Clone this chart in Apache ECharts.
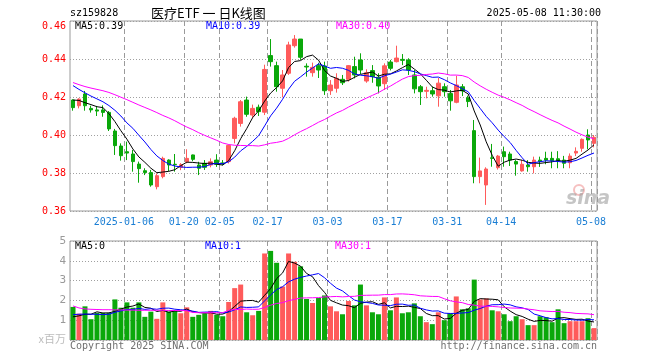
<!DOCTYPE html>
<html><head><meta charset="utf-8">
<script src="https://cdn.jsdelivr.net/npm/echarts@6/dist/echarts.min.js"></script>
<style>html,body{margin:0;padding:0;background:#fff}#c{width:660px;height:360px}</style>
</head><body><div id="c"></div>
<script>
const dates = [
'2024-12-23','2024-12-24','2024-12-25','2024-12-26','2024-12-27','2024-12-30','2024-12-31',
'2025-01-02','2025-01-03','2025-01-06','2025-01-07','2025-01-08','2025-01-09','2025-01-10','2025-01-13','2025-01-14','2025-01-15','2025-01-16','2025-01-17','2025-01-20','2025-01-21','2025-01-22','2025-01-23','2025-01-24','2025-01-27',
'2025-02-05','2025-02-06','2025-02-07','2025-02-10','2025-02-11','2025-02-12','2025-02-13','2025-02-14','2025-02-17','2025-02-18','2025-02-19','2025-02-20','2025-02-21','2025-02-24','2025-02-25','2025-02-26','2025-02-27','2025-02-28',
'2025-03-03','2025-03-04','2025-03-05','2025-03-06','2025-03-07','2025-03-10','2025-03-11','2025-03-12','2025-03-13','2025-03-14','2025-03-17','2025-03-18','2025-03-19','2025-03-20','2025-03-21','2025-03-24','2025-03-25','2025-03-26','2025-03-27','2025-03-28','2025-03-31',
'2025-04-01','2025-04-02','2025-04-03','2025-04-07','2025-04-08','2025-04-09','2025-04-10','2025-04-11','2025-04-14','2025-04-15','2025-04-16','2025-04-17','2025-04-18','2025-04-21','2025-04-22','2025-04-23','2025-04-24','2025-04-25','2025-04-28','2025-04-29','2025-04-30',
'2025-05-06','2025-05-07','2025-05-08'];

const openP = [0.4184,0.4154,0.4216,0.4140,0.4132,0.4132,0.4119,0.4021,0.3942,0.3912,
0.3900,0.3847,0.3812,0.3802,0.3728,0.3781,0.3868,0.3846,0.3830,0.3859,
0.3895,0.3842,0.3851,0.3842,0.3868,0.3853,0.3860,0.3982,0.4061,0.4184,
0.4105,0.4146,0.4120,0.4418,0.4365,0.4246,0.4325,0.4470,0.4505,0.4362,
0.4328,0.4365,0.4363,0.4233,0.4246,0.4293,0.4293,0.4360,0.4395,0.4284,
0.4339,0.4304,0.4270,0.4384,0.4386,0.4398,0.4395,0.4316,0.4254,0.4230,
0.4233,0.4206,0.4254,0.4218,0.4172,0.4254,0.4196,0.4023,0.3781,0.3737,
0.3880,0.3828,0.3912,0.3900,0.3860,0.3811,0.3842,0.3833,0.3868,0.3877,
0.3877,0.3875,0.3868,0.3854,0.3905,0.3930,0.4000,0.3956];
const closeP = [0.4144,0.4189,0.4154,0.4132,0.4126,0.4119,0.4032,0.3944,0.3891,0.3905,
0.3860,0.3823,0.3802,0.3737,0.3786,0.3877,0.3842,0.3844,0.3844,0.3877,
0.3872,0.3825,0.3830,0.3859,0.3846,0.3849,0.3945,0.4088,0.4175,0.4109,
0.4140,0.4123,0.4345,0.4386,0.4254,0.4316,0.4474,0.4505,0.4409,0.4358,
0.4356,0.4342,0.4233,0.4263,0.4298,0.4275,0.4365,0.4316,0.4342,0.4328,
0.4307,0.4258,0.4364,0.4351,0.4405,0.4393,0.4342,0.4243,0.4228,0.4235,
0.4216,0.4273,0.4228,0.4180,0.4263,0.4232,0.4176,0.3781,0.3811,0.3821,
0.3877,0.3889,0.3886,0.3868,0.3847,0.3846,0.3833,0.3868,0.3860,0.3868,
0.3865,0.3865,0.3851,0.3889,0.3914,0.3977,0.3974,0.3988];
const lowP = [0.4128,0.4140,0.4128,0.4118,0.4100,0.4096,0.4021,0.3895,0.3865,0.3868,
0.3807,0.3749,0.3789,0.3728,0.3714,0.3772,0.3810,0.3807,0.3815,0.3851,
0.3862,0.3789,0.3816,0.3830,0.3832,0.3840,0.3850,0.3956,0.4044,0.4096,
0.4090,0.4100,0.4105,0.4360,0.4228,0.4198,0.4316,0.4460,0.4395,0.4307,
0.4307,0.4300,0.4211,0.4211,0.4223,0.4263,0.4281,0.4298,0.4321,0.4275,
0.4275,0.4219,0.4237,0.4340,0.4382,0.4368,0.4316,0.4219,0.4158,0.4193,
0.4202,0.4149,0.4202,0.4128,0.4167,0.4205,0.4147,0.3746,0.3746,0.3632,
0.3833,0.3818,0.3833,0.3837,0.3786,0.3807,0.3807,0.3798,0.3832,0.3846,
0.3825,0.3825,0.3825,0.3825,0.3889,0.3912,0.3925,0.3935];
const highP = [0.4188,0.4193,0.4232,0.4154,0.4153,0.4156,0.4126,0.4032,0.3956,0.3965,
0.3921,0.3860,0.3825,0.3816,0.3798,0.3886,0.3872,0.3900,0.3852,0.3925,
0.3897,0.3859,0.3868,0.3877,0.3899,0.3868,0.3950,0.4096,0.4184,0.4202,
0.4160,0.4160,0.4370,0.4505,0.4386,0.4342,0.4491,0.4526,0.4505,0.4377,
0.4381,0.4380,0.4386,0.4289,0.4325,0.4316,0.4368,0.4412,0.4430,0.4346,
0.4368,0.4325,0.4377,0.4395,0.4470,0.4426,0.4404,0.4342,0.4263,0.4254,
0.4254,0.4300,0.4272,0.4237,0.4312,0.4268,0.4207,0.4079,0.3881,0.3830,
0.3953,0.3895,0.3939,0.3912,0.3868,0.3868,0.3868,0.3886,0.3886,0.3912,
0.3912,0.3915,0.3890,0.3903,0.3935,0.3982,0.4030,0.4000];
const volume = [1.67,1.33,1.70,1.05,1.37,1.37,1.37,2.05,1.63,1.90,
1.63,1.90,1.17,1.43,1.07,1.90,1.43,1.50,1.35,1.65,
1.17,1.27,1.33,1.47,1.27,1.20,1.92,2.62,2.80,1.40,
1.25,1.47,4.37,4.50,3.90,2.70,4.37,3.95,3.72,2.07,
1.87,2.12,2.25,1.70,1.45,1.30,1.97,1.75,2.80,1.75,
1.40,1.30,2.15,1.50,2.15,1.35,1.40,1.85,1.20,0.90,
0.80,1.40,1.00,1.35,2.20,1.55,1.60,3.05,2.05,2.10,
1.50,1.45,1.30,0.95,1.20,1.05,0.75,0.75,1.20,1.15,
0.90,1.55,0.85,0.95,0.95,0.95,1.10,0.60];

// moving-average values before enough visible history exists
const ma5Head = [0.4184,0.4182,0.4170,0.4160];
const ma10Head = [0.4260,0.4240,0.4222,0.4205,0.4190,0.4175,0.4155,0.4130,0.4100];
const ma30Head = [0.4276,0.4265,0.4255,0.4247,0.4240,0.4233,0.4224,0.4212,0.4199,0.4186,0.4172,0.4158,0.4145,0.4132,0.4118,0.4103,0.4090,0.4075,0.4058,0.4042,0.4028,0.4012,0.3998,0.3985,0.3972,0.3958,0.3950,0.3946,0.3945];
const vma5Head = [1.17,1.22,1.30,1.30];
const vma10Head = [1.28,1.30,1.31,1.30,1.30,1.28,1.30,1.40,1.47];
const vma30Head = [1.72,1.62,1.57,1.55,1.54,1.53,1.53,1.52,1.52,1.51,1.51,1.50,1.50,1.50,1.50,1.50,1.49,1.49,1.49,1.48,1.39,1.38,1.38,1.38,1.38,1.38,1.50,1.54,1.54];

const priceAxis = {min:0.36, max:0.46, step:0.02};
const volAxis = {min:0, max:5, step:1};
const labelDates = ['2025-01-06','2025-01-20','2025-02-05','2025-02-17','2025-03-03','2025-03-17','2025-03-31','2025-04-14','2025-05-08'];
const headerTexts = {code:'sz159828', title:'医疗ETF 一 日K线图', time:'2025-05-08 11:30:00'};
const maTexts = ['MA5:0.39','MA10:0.39','MA30:0.40'];
const vmaTexts = ['MA5:0','MA10:1','MA30:1'];

const RED = '#ff5b5b', GREEN = '#0aa80a';
const MONO = 'DejaVu Sans Mono';

function movingAvg(src, n, head) {
  return src.map((v, i) => {
    if (i < n - 1) return head[i];
    let s = 0;
    for (let k = i - n + 1; k <= i; k++) s += src[k];
    return +(s / n).toFixed(5);
  });
}

const labelIdx = labelDates.map(d => dates.indexOf(d));
const kData = dates.map((d, i) => [openP[i], closeP[i], lowP[i], highP[i]]);
const volData = volume.map((v, i) => ({value: v, itemStyle: {color: closeP[i] >= openP[i] ? RED : GREEN}}));

const chart = echarts.init(document.getElementById('c'), null, {renderer: 'canvas'});
const splitX = {show: true, interval: (i) => labelIdx.includes(i), lineStyle: {color: '#9a9a9a', type: [5, 3], width: 1}};
const lineS = (name, data, color, xi) => ({name, type: 'line', data, xAxisIndex: xi, yAxisIndex: xi, symbol: 'none', silent: true,
  lineStyle: {color, width: 1}, itemStyle: {color}, z: 5});

function txt(x, y, text, color, opts) {
  return Object.assign({type: 'text', x, y, silent: true, style: Object.assign({text, fill: color, font: '10px "' + MONO + '"', textVerticalAlign: 'middle'}, opts || {})});
}

chart.setOption({
  animation: false,
  backgroundColor: '#fff',
  grid: [
    {left: 70, top: 21, width: 527, height: 190, show: true, borderColor: '#9a9a9a', borderWidth: 1},
    {left: 70, top: 241, width: 527, height: 99, show: true, borderColor: '#9a9a9a', borderWidth: 1}
  ],
  xAxis: [
    {type: 'category', gridIndex: 0, data: dates, boundaryGap: true,
     axisLine: {show: false}, axisTick: {show: false}, splitLine: splitX,
     axisLabel: {show: true, interval: (i) => labelIdx.includes(i), color: '#1a7ed4', fontFamily: MONO, fontSize: 10, margin: 6,
       padding: [0, 6, 0, 0], formatter: (v) => v === labelDates[0] ? v : v.slice(5)}},
    {type: 'category', gridIndex: 1, data: dates, boundaryGap: true,
     axisLine: {show: false}, axisTick: {show: false}, splitLine: splitX, axisLabel: {show: false}}
  ],
  yAxis: [
    {type: 'value', gridIndex: 0, min: priceAxis.min, max: priceAxis.max, interval: priceAxis.step,
     axisLine: {show: false}, axisTick: {show: false},
     splitLine: {show: true, lineStyle: {color: '#a0a0a0', type: [1, 2], width: 1}},
     axisLabel: {color: '#ff0000', fontFamily: MONO, fontSize: 10, margin: 4, formatter: (v) => v.toFixed(2), verticalAlignMaxLabel: 'top'}},
    {type: 'value', gridIndex: 1, min: volAxis.min, max: volAxis.max, interval: volAxis.step,
     axisLine: {show: false}, axisTick: {show: false},
     splitLine: {show: true, lineStyle: {color: '#a0a0a0', type: [1, 2], width: 1}},
     axisLabel: {color: '#9a9a9a', fontFamily: MONO, fontSize: 11, margin: 4, formatter: (v) => v === 0 ? '' : String(v)}}
  ],
  series: [
    {name: 'K', type: 'candlestick', data: kData, xAxisIndex: 0, yAxisIndex: 0, barWidth: 4, silent: true,
     itemStyle: {color: RED, color0: GREEN, borderColor: RED, borderColor0: GREEN, borderWidth: 1}},
    lineS('MA5', movingAvg(closeP, 5, ma5Head), '#000000', 0),
    lineS('MA10', movingAvg(closeP, 10, ma10Head), '#0000ff', 0),
    lineS('MA30', movingAvg(closeP, 30, ma30Head), '#ff00ff', 0),
    {name: 'VOL', type: 'bar', data: volData, xAxisIndex: 1, yAxisIndex: 1, barWidth: 5, silent: true},
    lineS('VMA5', movingAvg(volume, 5, vma5Head), '#000000', 1),
    lineS('VMA10', movingAvg(volume, 10, vma10Head), '#0000ff', 1),
    lineS('VMA30', movingAvg(volume, 30, vma30Head), '#ff00ff', 1)
  ],
  graphic: [
    txt(70, 13, headerTexts.code, '#000'),
    txt(151, 13, headerTexts.title, '#000', {font: '13px "Noto Sans CJK SC"'}),
    txt(601, 13, headerTexts.time, '#000', {textAlign: 'right'}),
    txt(75, 26, maTexts[0], '#000'),
    txt(206, 26, maTexts[1], '#0000ff'),
    txt(336, 26, maTexts[2], '#ff00ff'),
    txt(75, 246, vmaTexts[0], '#000'),
    txt(205, 246, vmaTexts[1], '#0000ff'),
    txt(335, 246, vmaTexts[2], '#ff00ff'),
    txt(66, 339, 'x百万', '#bdbdbd', {textAlign: 'right', font: '11px "Noto Sans CJK SC"'}),
    txt(70, 346, 'Copyright 2025 SINA.COM', '#707070'),
    txt(597, 346, 'http://finance.sina.com.cn', '#707070', {textAlign: 'right'}),
    {type: 'circle', shape: {cx: 579, cy: 190, r: 5}, silent: true, style: {fill: 'none', stroke: 'rgba(240,150,150,0.6)', lineWidth: 2}},
    txt(566, 199, 'sina', 'rgba(150,150,150,0.55)', {font: 'italic bold 19px "DejaVu Sans"'})
  ]
});
</script></body></html>
